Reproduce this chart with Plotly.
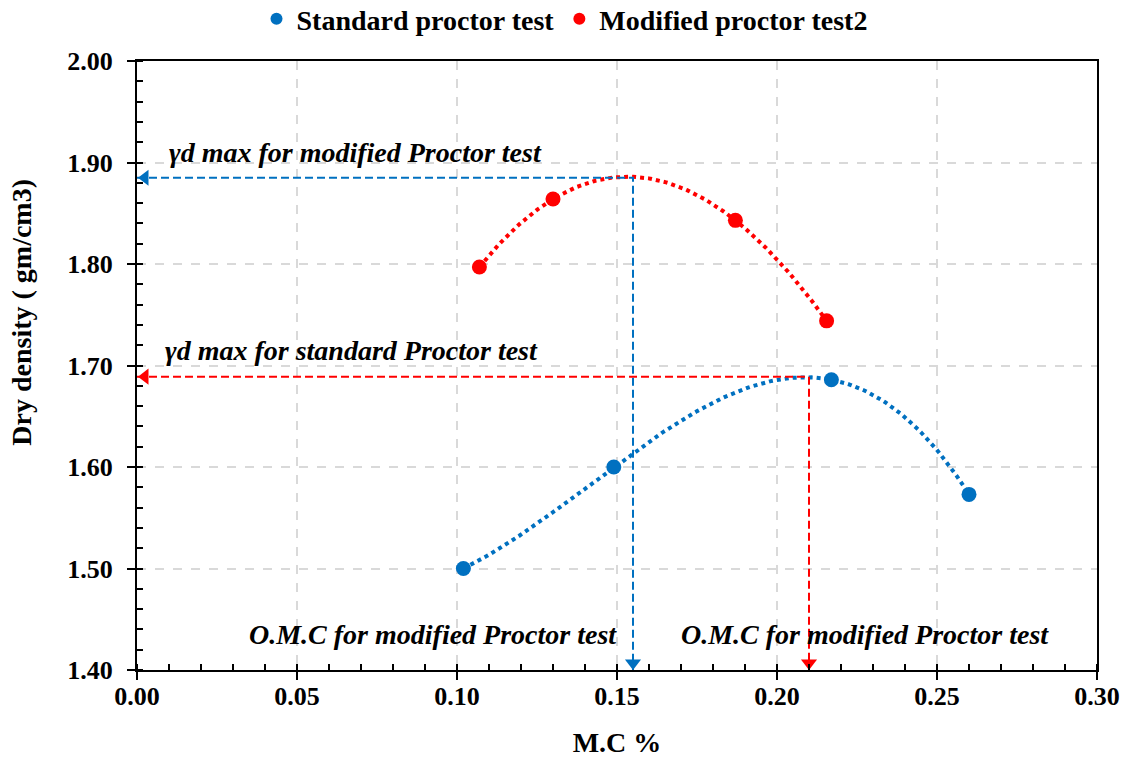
import numpy as np
import plotly.graph_objects as go

# Data
std_mc = [0.102, 0.149, 0.217, 0.260]
std_dd = [1.500, 1.600, 1.686, 1.573]
mod_mc = [0.107, 0.130, 0.187, 0.2155]
mod_dd = [1.797, 1.864, 1.843, 1.744]

# Reference values for the guide lines
mod_omc, mod_gmax = 0.155, 1.885
std_omc, std_gmax = 0.210, 1.689

BLUE = "#0070C0"
RED = "#FF0000"
FONT = "Liberation Serif, Times New Roman, serif"

def trend(x, y):
    c = np.polyfit(x, y, 3)
    xs = np.linspace(min(x), max(x), 200)
    return xs, np.polyval(c, xs)

fig = go.Figure()

# trendlines
for x, y, col in [(std_mc, std_dd, BLUE), (mod_mc, mod_dd, RED)]:
    xs, ys = trend(x, y)
    fig.add_trace(go.Scatter(x=xs, y=ys, mode="lines", showlegend=False,
                             line=dict(color=col, width=4, dash="4px,4px"), hoverinfo="skip"))

# guide lines (dashed)
def guides(omc, gmax, col):
    fig.add_trace(go.Scatter(x=[0, omc, omc], y=[gmax, gmax, 1.40], mode="lines",
                             showlegend=False, line=dict(color=col, width=2, dash="8px,4px"),
                             hoverinfo="skip", cliponaxis=False))
    fig.add_trace(go.Scatter(x=[0.0025], y=[gmax], mode="markers", showlegend=False,
                             marker=dict(symbol="triangle-left", size=14, color=col),
                             cliponaxis=False, hoverinfo="skip"))
    fig.add_trace(go.Scatter(x=[omc], y=[1.407], mode="markers", showlegend=False,
                             marker=dict(symbol="triangle-down", size=14, color=col),
                             cliponaxis=False, hoverinfo="skip"))

guides(mod_omc, mod_gmax, BLUE)
guides(std_omc, std_gmax, RED)

# data points
fig.add_trace(go.Scatter(x=std_mc, y=std_dd, mode="markers", name="<b>Standard proctor test</b>",
                         marker=dict(color=BLUE, size=15)))
fig.add_trace(go.Scatter(x=mod_mc, y=mod_dd, mode="markers", name="<b>Modified proctor test2</b>",
                         marker=dict(color=RED, size=15)))

ann_font = dict(family=FONT, size=28, color="black")
def ann(x, y, text):
    fig.add_annotation(x=x, y=y, xref="x", yref="y", text="<b><i>" + text + "</i></b>",
                       showarrow=False, xanchor="left", yanchor="middle", font=ann_font)

ann(0.0095, 1.910, "γd max for modified Proctor test")
ann(0.008, 1.715, "γd max for standard Proctor test")
ann(0.0344, 1.435, "O.M.C for modified Proctor test")
ann(0.1695, 1.435, "O.M.C for modified Proctor test")

# y-axis title (placed slightly above centre as in the original)
fig.add_annotation(xref="paper", yref="paper", x=-0.12, y=0.588, textangle=-90,
                   text="<b>Dry density ( gm/cm3)</b>", showarrow=False,
                   xanchor="center", yanchor="middle",
                   font=dict(family=FONT, size=28, color="black"))

axis_common = dict(
    showline=True, linecolor="black", linewidth=2, mirror=True,
    ticks="outside", ticklen=8, tickwidth=1.5, tickcolor="black",
    showgrid=True, gridcolor="#d9d9d9", gridwidth=1.5, griddash="dash",
    zeroline=False,
    tickprefix="<b>", ticksuffix="</b>",
    tickfont=dict(family=FONT, size=26, color="black"),
)

fig.update_xaxes(range=[0, 0.30], dtick=0.05, tickformat=".2f", ticklabelstandoff=-6,
                 minor=dict(dtick=0.01, ticks="inside", ticklen=6, tickcolor="black", showgrid=False),
                 title=dict(text="<b>M.C %</b>", font=dict(family=FONT, size=28, color="black"), standoff=24),
                 **axis_common)
fig.update_yaxes(range=[1.40, 2.00], dtick=0.1, tickformat=".2f", ticklabelstandoff=9,
                 minor=dict(dtick=0.02, ticks="inside", ticklen=6, tickcolor="black", showgrid=False),
                 **axis_common)

fig.update_layout(
    width=1129, height=758,
    margin=dict(l=137, r=32, t=61, b=88, autoexpand=False),
    plot_bgcolor="white", paper_bgcolor="white",
    font=dict(family=FONT, color="black"),
    legend=dict(orientation="h", x=0.5, xanchor="center", y=1.11, yanchor="top",
                yref="paper", xref="container",
                font=dict(family=FONT, size=28, color="black"),
                itemsizing="constant", bgcolor="rgba(0,0,0,0)", itemwidth=30,
                tracegroupgap=0),
)

fig.write_html("out.html")
